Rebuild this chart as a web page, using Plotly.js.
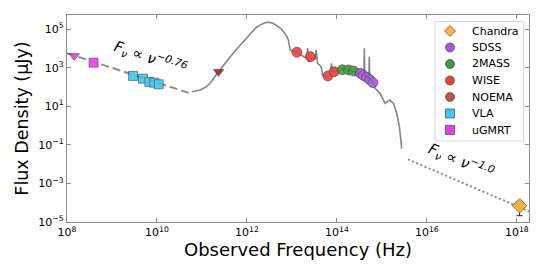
<!DOCTYPE html>
<html>
<head>
<meta charset="utf-8">
<script src="https://cdn.plot.ly/plotly-3.0.1.min.js"></script>
<style>
html,body{margin:0;padding:0;background:#fff;}
#chart{width:545px;height:273px;}
</style>
</head>
<body>
<div id="chart"></div>
<script>
// ---- data (log10 values) ----
const modelLogNu = [10.78,10.96,11.08,11.18,11.37,11.50,11.63,11.76,11.89,12.00,12.11,12.20,12.30,12.40,12.48,12.58,12.67,12.75,12.81,12.88,12.92,12.96,13.05,13.15,13.26,13.33,13.35,13.37,13.45,13.52,13.54,13.57,13.65,13.68,13.78,13.86,13.88,13.90,14.00,14.11,14.24,14.37,14.52,14.60,14.61,14.62,14.71,14.72,14.73,14.81,14.85,14.96,15.07,15.17,15.26,15.33,15.39,15.44];
const modelLogF  = [1.75,1.84,1.98,2.19,2.79,3.20,3.57,3.93,4.27,4.60,4.875,5.07,5.22,5.33,5.36,5.30,5.17,5.03,4.875,4.65,4.44,3.92,3.85,3.75,3.57,3.51,4.01,3.31,3.51,3.45,3.92,3.23,3.05,2.62,2.53,2.72,3.23,2.78,2.85,2.93,2.91,2.80,2.70,2.62,4.01,2.57,2.46,3.57,2.41,2.20,1.93,1.67,1.15,1.32,1.15,0.625,-0.07,-1.20];

const radioPLLogNu = [8.0, 10.75];
const radioPLLogF  = [3.75, 1.66];
const xrayPLLogNu  = [15.58, 18.35];
const xrayPLLogF   = [-1.755, -4.525];

const chandraLogNu = [18.06];
const chandraLogF  = [-4.16];
const chandraErr   = [4.8e-5];   // linear μJy

const sdssLogNu = [14.52, 14.59, 14.66, 14.73, 14.80];
const sdssLogF  = [2.71, 2.60, 2.50, 2.38, 2.22];

const tmassLogNu = [14.12, 14.26, 14.37];
const tmassLogF  = [2.89, 2.88, 2.83];

const wiseLogNu = [13.11, 13.41, 13.80, 13.94];
const wiseLogF  = [3.80, 3.57, 2.57, 2.79];

const noemaLogNu = [11.37];
const noemaLogF  = [2.79];

const vlaLogNu = [9.47, 9.69, 9.83, 9.94, 10.04];
const vlaLogF  = [2.57, 2.43, 2.26, 2.22, 2.14];

const ugmrtLogNu = [8.59];
const ugmrtLogF  = [3.26];
const ugmrtLimLogNu = [8.16];
const ugmrtLimLogF  = [3.61];

const yTickExp = [-5,-3,-1,1,3,5];
const xTickExp = [8,10,12,14,16,18];

const legendNames  = ['Chandra','SDSS','2MASS','WISE','NOEMA','VLA','uGMRT'];
const legendSymbols= ['diamond','circle','circle','circle','circle','square','square'];
const legendColors = ['#fbb33c','#a557d6','#3b9a3b','#f23d3d','#c0544f','#3ec6f2','#f03cf0'];

// ---- helpers ----
const lin = a => a.map(v => Math.pow(10, v));
const edge = {color:'rgba(60,60,60,0.8)', width:0.8};

// plot-area geometry (pixels) for legend placement
const PL = 67, PW = 462, PT = 15, PH = 207;
const px2x = p => (p - PL) / PW;
const py2y = p => 1 - (p - PT) / PH;

const traces = [];
traces.push({x:lin(radioPLLogNu), y:lin(radioPLLogF), mode:'lines',
  line:{color:'#8a8a8a', width:2, dash:'8px,4px'}, hoverinfo:'skip'});
traces.push({x:lin(xrayPLLogNu), y:lin(xrayPLLogF), mode:'lines',
  line:{color:'#8a8a8a', width:2, dash:'2px,2.5px'}, hoverinfo:'skip'});
traces.push({x:lin(modelLogNu), y:lin(modelLogF), mode:'lines',
  line:{color:'#858585', width:1.6}, hoverinfo:'skip'});

function pts(lx, ly, sym, col, size){
  return {x:lin(lx), y:lin(ly), mode:'markers', opacity:0.9,
    marker:{symbol:sym, color:col, size:size, line:edge}};
}
traces.push(pts(vlaLogNu, vlaLogF, 'square', legendColors[5], 9));
traces.push(pts(ugmrtLogNu, ugmrtLogF, 'square', legendColors[6], 9));
traces.push(pts(ugmrtLimLogNu, ugmrtLimLogF, 'triangle-down', legendColors[6], 9));
traces.push(pts(noemaLogNu, noemaLogF, 'triangle-down', '#a82828', 9));
traces.push(pts(wiseLogNu, wiseLogF, 'circle', legendColors[3], 10));
traces.push(pts(tmassLogNu, tmassLogF, 'circle', legendColors[2], 10));
traces.push(pts(sdssLogNu, sdssLogF, 'circle', legendColors[1], 10));
const ch = pts(chandraLogNu, chandraLogF, 'diamond', legendColors[0], 11);
ch.error_y = {type:'data', array:chandraErr, visible:true, color:'#222', thickness:1, width:3};
ch.opacity = 1;
traces.push(ch);

// ---- hand-made legend (matplotlib-like spacing) ----
const shapes = [];
const legAnn = [];
shapes.push({type:'rect', xref:'paper', yref:'paper', layer:'above',
  x0:px2x(435), x1:px2x(523.5), y0:py2y(141), y1:py2y(21.5),
  fillcolor:'rgba(255,255,255,0.85)', line:{color:'#d6d6d6', width:1}});
for (let i=0;i<legendNames.length;i++){
  const cy = 31 + i*16.5, cx = 450, r = 4.5;
  const col = legendColors[i];
  const common = {xref:'paper', yref:'paper', layer:'above', fillcolor:col,
    line:{color:'rgba(60,60,60,0.8)', width:0.8}};
  if (legendSymbols[i] === 'circle'){
    shapes.push(Object.assign({type:'circle', x0:px2x(cx-r), x1:px2x(cx+r), y0:py2y(cy+r), y1:py2y(cy-r)}, common));
  } else if (legendSymbols[i] === 'square'){
    shapes.push(Object.assign({type:'rect', x0:px2x(cx-r), x1:px2x(cx+r), y0:py2y(cy+r), y1:py2y(cy-r)}, common));
  } else {
    const d = 5.5;
    shapes.push(Object.assign({type:'path',
      path:'M'+px2x(cx)+','+py2y(cy-d)+' L'+px2x(cx+d)+','+py2y(cy)+' L'+px2x(cx)+','+py2y(cy+d)+' L'+px2x(cx-d)+','+py2y(cy)+' Z'}, common));
  }
  legAnn.push({xref:'paper', yref:'paper', x:px2x(470), y:py2y(cy), xanchor:'left', yanchor:'middle',
    showarrow:false, text:legendNames[i], font:{size:11, family:'DejaVu Sans', color:'#000'}});
}

const axisCommon = {
  type:'log', showgrid:false, zeroline:false,
  showline:true, linecolor:'#8c8c8c', linewidth:1.2, mirror:'ticks',
  ticks:'inside', ticklen:4, tickwidth:1, tickcolor:'#8c8c8c',
  tickfont:{family:'DejaVu Sans', size:11, color:'#000'}
};

const layout = {
  width:545, height:273,
  showlegend:false,
  margin:{l:PL, r:545-PL-PW, t:PT, b:273-PT-PH},
  paper_bgcolor:'#fff', plot_bgcolor:'#fff',
  font:{family:'DejaVu Sans', color:'#000'},
  xaxis:Object.assign({}, axisCommon, {
    range:[8, 18.27],
    tickvals:lin(xTickExp), ticktext:xTickExp.map(e=>'10<sup>'+e+'</sup>'),
    title:{text:'Observed Frequency (Hz)', font:{size:18, family:'DejaVu Sans'}, standoff:3}
  }),
  yaxis:Object.assign({}, axisCommon, {
    range:[-5, 5.73],
    tickvals:lin(yTickExp), ticktext:yTickExp.map(e=>'10<sup>'+(e<0?'\u2212'+(-e):e)+'</sup>'),
    title:{text:'Flux Density (\u03bcJy)', font:{size:17.5, family:'DejaVu Sans'}, standoff:5}
  }),
  shapes:shapes,
  annotations:[
    {xref:'paper', yref:'paper', x:px2x(151), y:py2y(57), xanchor:'center', yanchor:'middle', showarrow:false,
     text:'<i>F</i><sub><i>\u03bd</i></sub> \u221d <i>\u03bd</i><sup><i>\u22120.76</i></sup>',
     textangle:19, font:{size:15, family:'DejaVu Sans', color:'#000'}},
    {xref:'paper', yref:'paper', x:px2x(461), y:py2y(160), xanchor:'center', yanchor:'middle', showarrow:false,
     text:'<i>F</i><sub><i>\u03bd</i></sub> \u221d <i>\u03bd</i><sup><i>\u22121.0</i></sup>',
     textangle:23, font:{size:15, family:'DejaVu Sans', color:'#000'}}
  ].concat(legAnn)
};

Plotly.newPlot('chart', traces, layout, {staticPlot:true, displayModeBar:false});
</script>
</body>
</html>
